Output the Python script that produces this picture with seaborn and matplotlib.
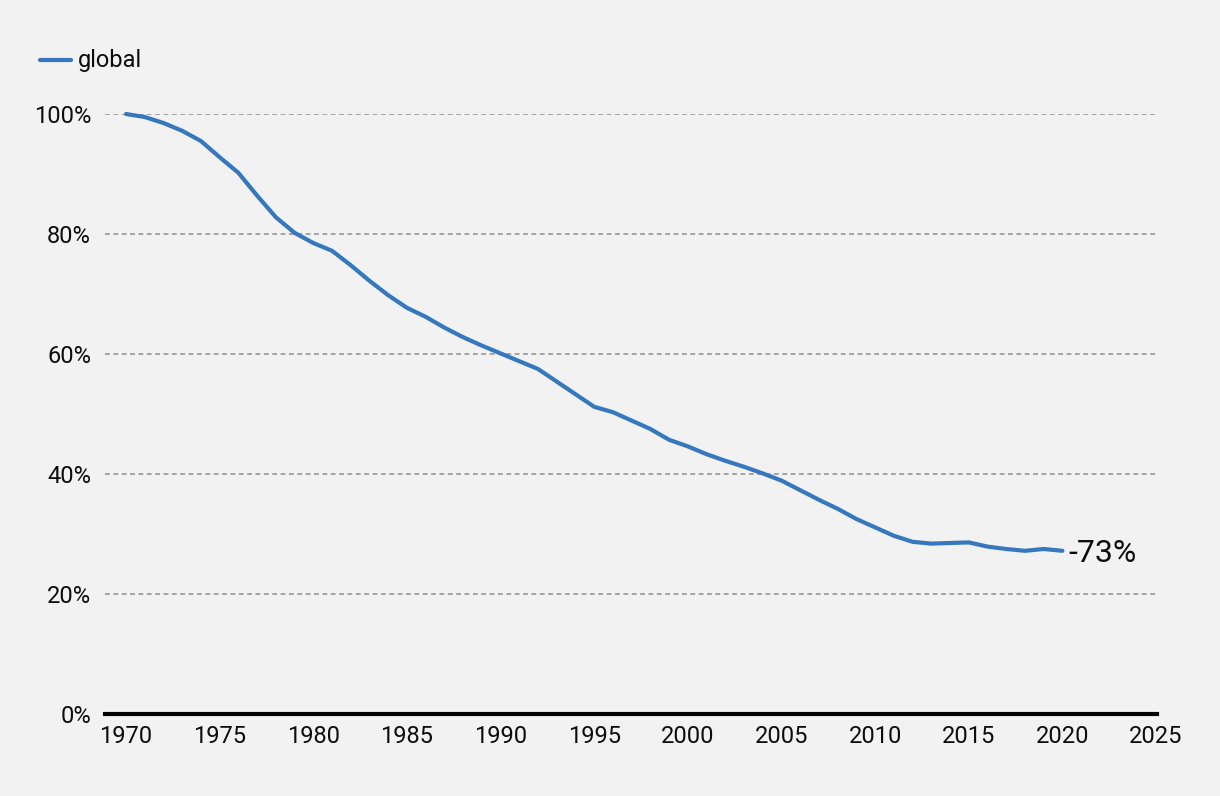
import pandas as pd
import matplotlib.pyplot as plt
import seaborn as sns

years = list(range(1970, 2021))
global_share = [
    100.0, 99.5, 98.5, 97.2, 95.5, 92.8, 90.2, 86.4, 82.8, 80.2,
    78.5, 77.2, 74.8, 72.2, 69.8, 67.7, 66.2, 64.4, 62.8, 61.4,
    60.1, 58.8, 57.5, 55.4, 53.3, 51.2, 50.3, 48.9, 47.5, 45.7,
    44.6, 43.3, 42.2, 41.2, 40.1, 38.9, 37.3, 35.7, 34.2, 32.5,
    31.1, 29.7, 28.7, 28.4, 28.5, 28.6, 27.9, 27.5, 27.2, 27.5,
    27.2,
]
end_label = "-73%"
y_ticks = [0, 20, 40, 60, 80, 100]
x_ticks = list(range(1970, 2030, 5))

df = pd.DataFrame({"year": years, "value": global_share, "series": "global"})

sns.set_style("white")
plt.rcParams["font.family"] = ["Roboto", "DejaVu Sans"]
bg = "#f2f2f2"
blue = "#3578bd"
ink = "#0d0d0d"

fig = plt.figure(figsize=(12.2, 7.96), dpi=100, facecolor=bg)
ax = fig.add_axes([105 / 1220, 1 - 714 / 796, (1157 - 105) / 1220, (714 - 114) / 796])
ax.set_facecolor(bg)

# dashed gridlines
for t in y_ticks[1:]:
    ax.axhline(t, color="#a3a3a3", lw=1.4, ls=(0, (2.5, 1.8)), zorder=1)

sns.lineplot(data=df, x="year", y="value", color=blue, lw=3, ax=ax,
             legend=False, zorder=3, clip_on=False)

ax.set_xlim(1968.88, 2025.05)
ax.set_ylim(0, 100)
ax.set_xticks(x_ticks)
ax.set_yticks(y_ticks)
ax.set_yticklabels([f"{v}%" for v in y_ticks])
ax.set_xlabel("")
ax.set_ylabel("")
ax.tick_params(axis="both", length=0, labelsize=17, colors=ink)
ax.tick_params(axis="x", pad=8)
ax.tick_params(axis="y", pad=10)
for s in ["top", "right", "left"]:
    ax.spines[s].set_visible(False)
ax.spines["bottom"].set_color("black")
ax.spines["bottom"].set_linewidth(3)

ax.text(years[-1] + 0.3, global_share[-1] - 0.4, end_label, fontsize=23,
        va="center", ha="left", color=ink)

# legend
fig.lines.append(plt.Line2D([40 / 1220, 71 / 1220], [1 - 60 / 796] * 2,
                            transform=fig.transFigure, color=blue, lw=3))
fig.text(78 / 1220, 1 - 60 / 796, "global", fontsize=17, va="center",
         ha="left", color=ink)

fig.savefig("out.png", dpi=100, facecolor=bg)
